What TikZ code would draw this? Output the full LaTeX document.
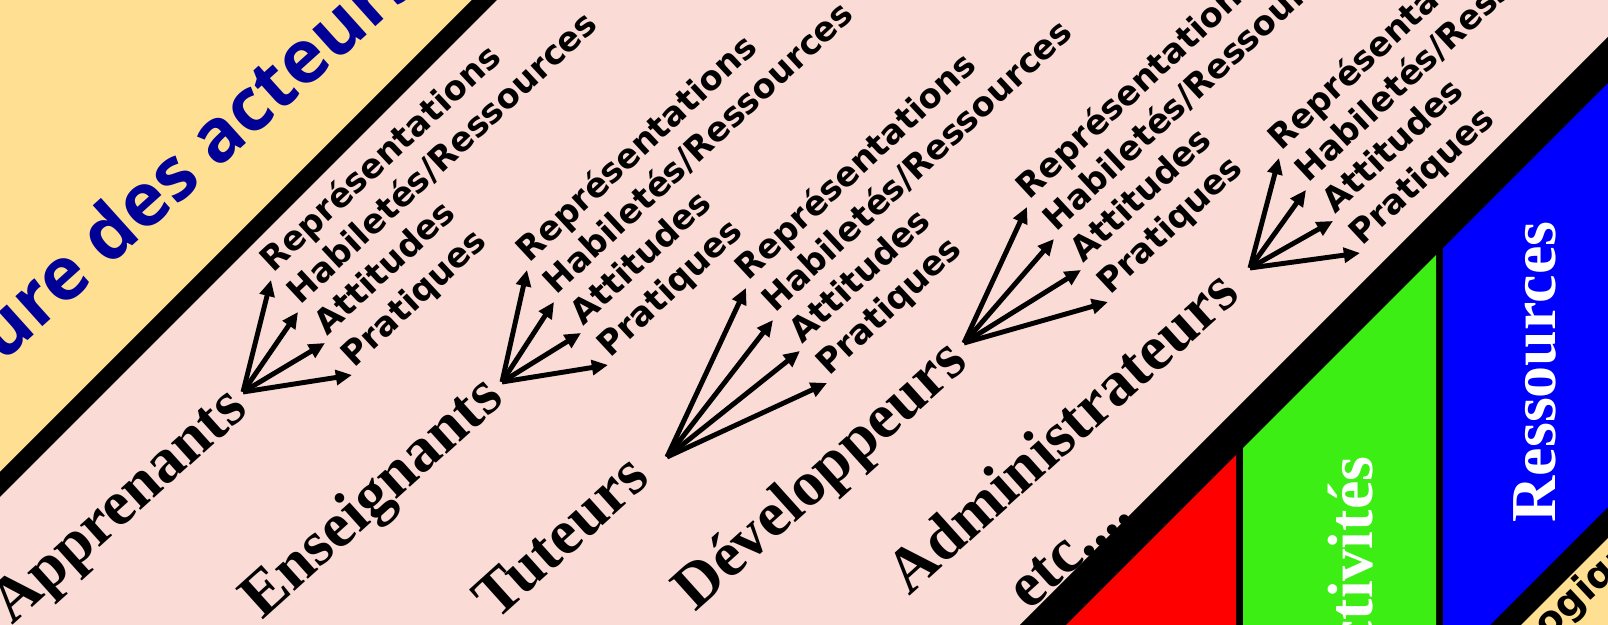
\documentclass[tikz,border=0pt]{standalone}
\usepackage{fontspec}
\setmainfont{Liberation Serif}
\newfontfamily\labelfont{DejaVu Sans}
\newfontfamily\titlefont{Open Sans}
\usetikzlibrary{arrows.meta}

\definecolor{bandyellow}{RGB}{255,223,145}
\definecolor{bandpink}{RGB}{250,219,214}
\definecolor{titleblue}{RGB}{0,0,150}
\definecolor{colred}{RGB}{255,0,0}
\definecolor{colgreen}{RGB}{60,238,20}
\definecolor{colblue}{RGB}{0,0,255}

\begin{document}
\begin{tikzpicture}[x=0.01cm, y=-0.01cm,
    actor/.style={rotate=42, inner sep=0pt, anchor=base east, font=\fontsize{18}{20}\selectfont\bfseries},
    facet/.style={rotate=43, inner sep=0pt, anchor=base west, font=\labelfont\bfseries\fontsize{9.6}{11}\selectfont},
    fan/.style={line width=1.4pt, -{Triangle[length=4.6pt,width=4.2pt]}},
    coltext/.style={rotate=90, inner sep=0pt, anchor=base, text=white, font=\fontsize{18.2}{20}\selectfont\bfseries}]

    \useasboundingbox (0,0) rectangle (1608,625);
    \clip (0,0) rectangle (1608,625);

    % Diagonal bands
    \fill[bandpink] (0,0) rectangle (1608,625);
    \fill[bandyellow] (0,0) -- (472,0) -- (0,472) -- cycle;
    \fill[black] (472,0) -- (497,0) -- (0,497) -- (0,472) -- cycle;
    \fill[black] (1020,625) -- (1608,37) -- (1608,625) -- cycle;

    % Columns under the band
    \fill[colred] (1066,625) -- (1236,455) -- (1236,625) -- cycle;
    \fill[colgreen] (1243,448) -- (1436,255) -- (1436,625) -- (1243,625) -- cycle;
    \fill[colblue] (1443,248) -- (1608,83) -- (1608,507) -- (1490,625) -- (1443,625) -- cycle;
    \fill[bandyellow] (1521,625) -- (1608,538) -- (1608,625) -- cycle;

    % Title
    \node[rotate=42, inner sep=0pt, anchor=base west, text=titleblue,
          font=\titlefont\bfseries\fontsize{21}{24}\selectfont] (title) at (-22,385) {ture des acteurs};

    % Apprenants
    \node[actor] (app) at (250,412) {Apprenants};
    \coordinate (app-o) at (243,392);
    \node[facet] (app-1) at (273,274) {Représentations};
    \node[facet] (app-2) at (300,306) {Habiletés/Ressources};
    \node[facet] (app-3) at (327,337) {Attitudes};
    \node[facet] (app-4) at (354,369) {Pratiques};
    \foreach \k in {1,...,4} \draw[fan] (app-o) -- ([shift={(-2,6)}]app-\k.base west);

    % Enseignants
    \node[actor] (ens) at (506,401) {Enseignants};
    \coordinate (ens-o) at (502,382);
    \node[facet] (ens-1) at (529,264) {Représentations};
    \node[facet] (ens-2) at (556,296) {Habiletés/Ressources};
    \node[facet] (ens-3) at (583,327) {Attitudes};
    \node[facet] (ens-4) at (610,359) {Pratiques};
    \foreach \k in {1,...,4} \draw[fan] (ens-o) -- ([shift={(-2,6)}]ens-\k.base west);

    % Tuteurs
    \node[actor] (tut) at (652,481) {Tuteurs};
    \coordinate (tut-o) at (667,457);
    \node[facet] (tut-1) at (748,282) {Représentations};
    \node[facet] (tut-2) at (775,314) {Habiletés/Ressources};
    \node[facet] (tut-3) at (802,345) {Attitudes};
    \node[facet] (tut-4) at (829,377) {Pratiques};
    \foreach \k in {1,...,4} \draw[fan] (tut-o) -- ([shift={(-2,6)}]tut-\k.base west);

    % Developpeurs
    \node[actor] (dev) at (970,365) {Développeurs};
    \coordinate (dev-o) at (964,343);
    \node[facet] (dev-1) at (1029,201) {Représentations};
    \node[facet] (dev-2) at (1056,233) {Habiletés/Ressources};
    \node[facet] (dev-3) at (1083,264) {Attitudes};
    \node[facet] (dev-4) at (1110,296) {Pratiques};
    \foreach \k in {1,...,4} \draw[fan] (dev-o) -- ([shift={(-2,6)}]dev-\k.base west);

    % Administrateurs
    \node[actor] (adm) at (1242,297) {Administrateurs};
    \coordinate (adm-o) at (1250,268);
    \node[facet] (adm-1) at (1281,152) {Représentations};
    \node[facet] (adm-2) at (1308,184) {Habiletés/Ressources};
    \node[facet] (adm-3) at (1335,215) {Attitudes};
    \node[facet] (adm-4) at (1362,247) {Pratiques};
    \foreach \k in {1,...,4} \draw[fan] (adm-o) -- ([shift={(-2,6)}]adm-\k.base west);

    \node[actor] (etc) at (1134,517) {etc....};

    % Column labels
    \node[coltext, anchor=base east] (act) at (1372,456) {Activités};
    \node[coltext] (res) at (1555,372) {Ressources};
    \node[facet, font=\labelfont\bfseries\fontsize{11}{12}\selectfont] (log) at (1548,640) {ogiques};

\end{tikzpicture}
\end{document}
